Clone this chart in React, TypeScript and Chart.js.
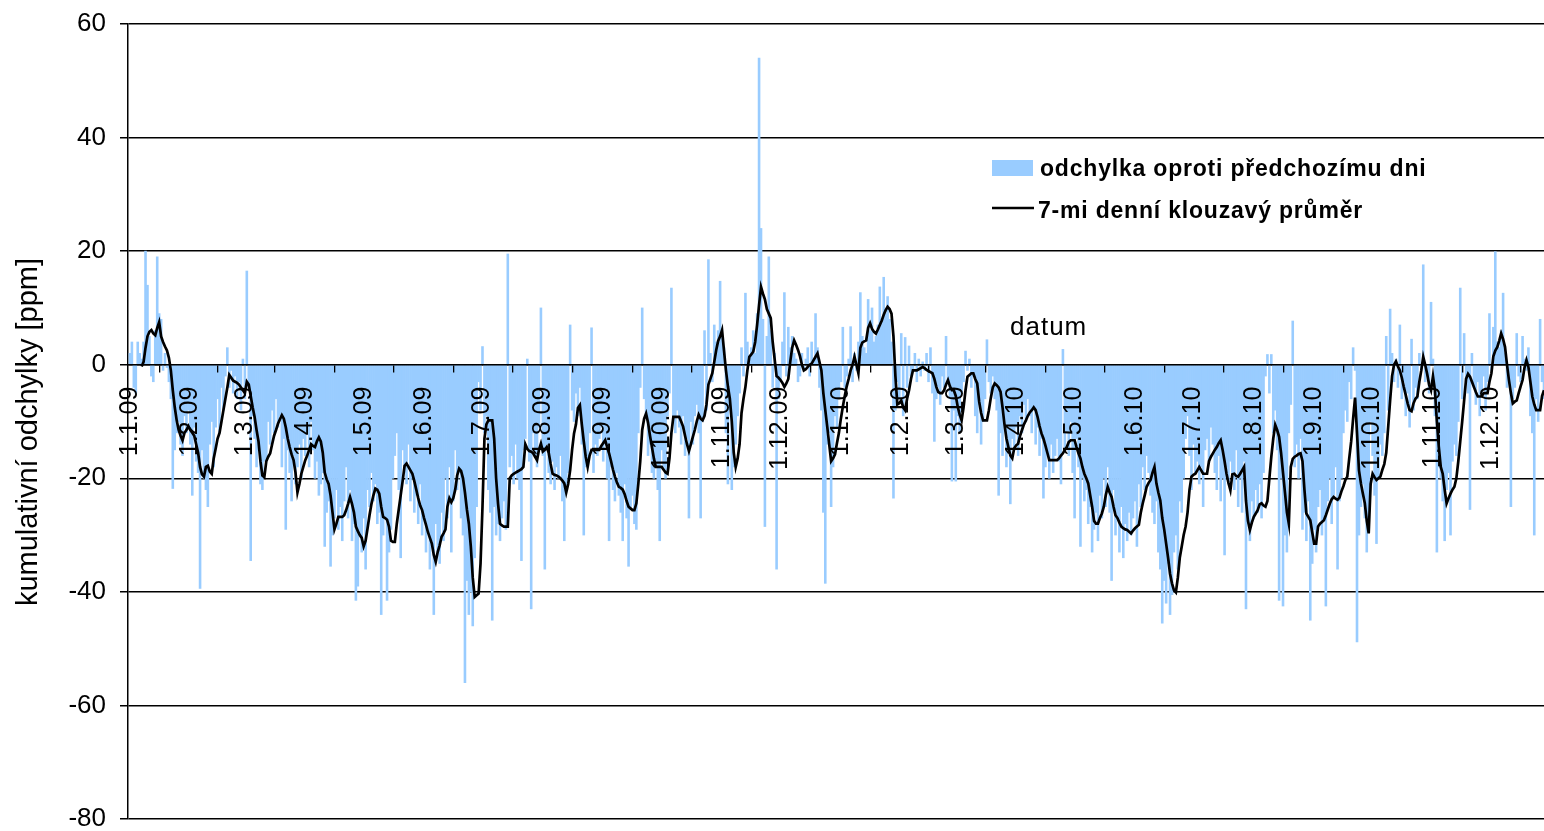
import { useEffect, useRef } from "react";
import { Chart, registerables } from "chart.js";

Chart.register(...registerables);

// Month-start tick labels (d.m.yy), first day of the series is 1.1.09
const monthLabels = [
  "1.1.09", "1.2.09", "1.3.09", "1.4.09", "1.5.09", "1.6.09",
  "1.7.09", "1.8.09", "1.9.09", "1.10.09", "1.11.09", "1.12.09",
  "1.1.10", "1.2.10", "1.3.10", "1.4.10", "1.5.10", "1.6.10",
  "1.7.10", "1.8.10", "1.9.10", "1.10.10", "1.11.10", "1.12.10",
];

// Day-to-day deviation [ppm], one value per day from 1.1.09
const dailyDeviation = [
  2, 4, -4, -5, 4, 2, 1, 4, 20, 14,
  5, -2, -3, 6, 19, 9, 8, -1, 2, -0.5,
  -3, -6, -21.8, -15, -12, -10, -14, -16, -9, -12,
  -8, -14, -23, -11, -17, -19, -39.4, -15, -20, -22,
  -25, -14, -10, -18, -11, -6, -12, -4, -8, -2,
  3, -4, -1, -5, -2, -6, -3, -8, 1, -6,
  16.5, -4, -34.5, -9, -13, -18, -15, -21, -22, -17,
  -17, -10, -14, -8, -12, -6, -11, -9, -18, -13,
  -29, -15, -19, -24, -16, -21, -18, -14, -20, -13,
  -16, -12, -18, -10, -15, -20, -17, -23, -21, -19,
  -32, -26, -24, -35.5, -30, -27, -22, -29, -25, -31,
  -24, -18, -27, -22, -31, -28, -41.5, -39, -30, -33,
  -27, -36, -22, -25, -19, -24, -21, -28, -26, -44,
  -30, -27, -41.5, -33, -29, -20, -16, -12, -22, -34,
  -15, -19, -21, -14, -24, -20, -26, -23, -28, -21,
  -30, -27, -33, -29, -36, -31, -44, -28, -33, -35,
  -26, -31, -20, -27, -18, -33, -24, -15, -22, -19,
  -27, -30, -56, -38, -44, -40, -46, -34, -25, -3,
  -8, 3.2, -12, -9, -22, -26, -45, -25, -30, -28,
  -31, -27, -24, -29, 19.5, -18, -16, -21, -14, -20,
  -22, -34.5, -15, -13, 1, -17, -43, -12, -16, -18,
  -11, 10, -16, -36, -14, -19, -21, -17, -22, -18,
  -20, -16, -24, -31, -22, -19, 7, -8, -10, -5,
  -9, -4, -14, -30, -18, -17, -12, 6.5, -19, -14,
  -16, -13, -11, -17, -14, -20, -31, -18, -22, -24,
  -19, -23, -26, -31, -21, -27, -35.5, -25, -23, -28,
  -29, -12, -4, 10, -6, -9, -16, -14, -19, -20,
  -17, -22, -31, -15, -18, -20, -9, -5, 13.5, -10,
  -12, -8, -11, -14, -9, -16, -13, -27, -10, -14,
  -9, -7, -12, -27, -10, 6, -8, 18.5, 2, -3,
  7, 4, 6, 14.7, 5, 3, -12, -21, -8, -22,
  -18, -14, -9, -5, 3, -2, 12.6, 4, 1, 3,
  6, 2, 9, 54, 24, 8, -28.5, 5, 19, 6,
  -4, 2, -36, -6, -3, 4, 12.7, -2, 6.6, 3,
  5, 2, 1, -3, -2, 2, -1, 1, 3, -2,
  4, 1, 9, 3, -4, -8, -26, -38.5, -14, -12,
  -25, -18, -9, -11, -6, -3, 6.6, -4, -2, 1,
  6.7, -3, 2, -1, 4, 12.7, 5, 3, 2, 11.5,
  6, 10, 4, 5, 7, 13.7, 8, 15.4, 9, 12,
  8, 4, -23.5, -8, -3, -6, 5.5, -9, 4.8, -4,
  3.3, -2, -1, 2, -3, 1, -2, 0.5, -1, 2,
  -3, 3, -5, -13.5, -6, -4, -7, -2, -4, 5,
  -3, -6, -20.5, -8, -20.5, -9, -12, -5, -3, 2.4,
  -1, 1, -4, -2, -9, -12, -7, -14, -10, -6,
  4.4, -3, -5, -2, -6, -8, -23, -12, -16, -10,
  -18, -14, -24.5, -13, -15, -11, -16, -9, -12, -7,
  -10, -6, -9, -12, -8, -14, -11, -16, -13, -23.5,
  -18, -15, -20, -14, -19, -16, -13, -17, -21, 2.7,
  -15, -12, -16, -10, -19, -27, -13, -18, -32, -20,
  -24, -22, -28, -25, -33, -29, -26, -31, -23, -27,
  -20, -25, -18, -26, -38, -22, -30, -27, -33, -25,
  -34, -28, -31, -26, -30, -27, -24, -32, -21, -25,
  -18, -22, -16, -19, -23, -26, -28, -24, -33, -36,
  -45.5, -38, -42, -35, -44, -40.5, -33, -30, -36, -24,
  -26, -20, -13, -9, -16, -22, -14, -19, -17, -21,
  -18, -25, -15, -13, -17, -11, -14, -19, -22, -16,
  -24, -20, -33.5, -18, -21, -17, -19, -22, -15, -25,
  -20, -26, -17, -43, -28, -31, -24, -27, -22, -26,
  -21, -27, -19, -2, 1.8, -5, 1.8, -12, -8, -15,
  -41.5, -20, -42.5, -30, -33, -12, -7, 7.7, -18, -14,
  -20, -13, -29, -26, -31, -24, -45, -35, -29, -33,
  -25, -22, -30, -27, -42.5, -24, -20, -28, -23, -18,
  -36, -24, -20, -12, -8, -10, -3, -6, 3, -1,
  -48.8, -30, -25, -21, -27, -33, -29, -10, -16, -23,
  -31.5, -20, -14, -16, -12, 5, -8, 9.8, 2, -3,
  1, -4, 7, -6, -3, -9, -5, -11, 4.5, -8,
  -4, -6, 2, -1, 17.6, -3, -2, -5, 11, 1,
  -9, -33, -18, -20, -24, -31, -22, -19, -30, -17,
  -14, -16, -10, 13.5, -6, 5.5, -3, -5, -25.5, 2,
  -4, -7, -3, -9, -5, -2, -8, -3, 9, -1,
  6.6, 19.9, 4, 3, 6, 12.6, 2, -4, -3, -25,
  -6, -4, 5.5, -2, -3, 5, 1, -1, 3, -9,
  -12, -30, -6, -10, 8, -3, -6,
];

// 7-day moving average [ppm], starts once seven days are available
const movingAverage = [
  null, null, null, null, null, null, -0.3, 0.5, 3, 5,
  5.8, 6.1, 5.5, 5.2, 6.5, 7.5, 5, 4, 3.2, 2.5,
  1.2, -1, -4.5, -7.5, -9.8, -11.5, -12.5, -13.3, -12, -11.5,
  -10.8, -11.5, -12, -12.5, -14, -15.5, -18, -19.3, -19.7, -18,
  -17.8, -18.8, -19.2, -16.5, -14.8, -13, -12, -10, -8, -6,
  -4, -1.8, -2.3, -2.8, -3, -3.2, -3.5, -4, -4.5, -5,
  -3, -3.5, -5.5, -7.5, -9.2, -11.5, -13.5, -17, -19.5, -19.8,
  -17, -16.2, -15.6, -14, -12.5, -11.5, -10.4, -9.6, -8.9, -9.5,
  -11, -13, -14.5, -15.8, -16.8, -19, -22.5, -21, -19.2, -18,
  -16.8, -16, -15, -14, -14.3, -14.5, -13.5, -12.8, -13.5, -15.5,
  -19, -20.2, -21, -23, -26, -29, -28, -26.8, -26.8, -26.8,
  -26.5, -25.6, -24.5, -23.3, -24.5, -26, -28.5, -29.3, -30, -30.5,
  -32, -31, -28.8, -26.5, -24.5, -23, -21.8, -22, -22.7, -25,
  -26.8, -27, -27.3, -28.5, -31, -31.2, -31.2, -28, -25.5, -23,
  -20.5, -17.8, -17.4, -18, -18.6, -19.2, -20.5, -22, -23.5, -24.8,
  -25.6, -27, -28.2, -29.5, -30.5, -31.5, -33.5, -34.7, -33, -31.8,
  -30.3, -29.7, -29, -25, -23.5, -24.2, -23.5, -22, -19.5, -18.3,
  -18.7, -20, -22.5, -25.5, -28, -32, -37.5, -40.9, -40.6, -40.3,
  -35, -25, -13, -10.5, -9.8, -9.8, -9.8, -13, -20, -24.5,
  -28, -28.3, -28.5, -28.5, -28.5, -20, -19.5, -19.2, -19, -18.8,
  -18.6, -18.4, -18, -14, -14.8, -15.2, -15.3, -15.6, -16.2, -16.8,
  -15, -13.9, -15.3, -15, -14.5, -15.5, -17.5, -19.2, -19.4, -19.5,
  -19.7, -20, -20.4, -20.9, -22.5, -21, -18.6, -15, -12.1, -10.5,
  -7.6, -7.1, -10.5, -13.5, -16.2, -18, -16, -15, -15, -15,
  -15, -15, -14.3, -13.8, -13.3, -14.5, -15.6, -17, -18.5, -19.7,
  -20.7, -21.5, -21.7, -22, -22.8, -24, -25, -25.3, -25.6, -25.6,
  -24.4, -21, -17, -11.5, -9.5, -8.6, -10.2, -12.5, -14.5, -16.5,
  -18, -18, -18, -18, -18.5, -19, -19.2, -16.5, -12, -9.2,
  -9.2, -9.2, -9.2, -10, -10.9, -12.5, -14, -15.2, -14, -12.7,
  -11.5, -10, -8.8, -9.5, -9.8, -9, -7, -3.5, -2.5, -1.5,
  0.5, 2.6, 4.2, 5, 6.1, 2.5, -1, -3.8, -6, -10,
  -15.5, -18, -16.5, -14, -8.5, -6, -3.9, -1, 1.4, 1.8,
  2.3, 4, 7, 10.5, 13.7, 12.5, 11.5, 9.8, 9, 8.2,
  4, 1, -2, -2.3, -2.7, -3.2, -3.9, -3.3, -2.5, 0.5,
  3, 4.3, 3.5, 2.6, 1.5, 0, -1, -0.8, -0.4, 0,
  0.2, 0.8, 1.4, 2, 0.5, -1, -5, -8, -10.9, -14,
  -17, -16.5, -15.8, -13.8, -12, -9.5, -7.4, -5.5, -3.8, -2.5,
  -1, 0, 1.4, 0, -1.5, 3, 3.9, 4.1, 4.3, 6.5,
  7.3, 6.3, 5.8, 5.5, 6.2, 7, 7.8, 8.8, 9.6, 10.2,
  9.8, 9, 5, -2, -7, -6.8, -6.3, -7.5, -8, -6,
  -4.5, -2.5, -1, -1, -1, -0.8, -0.6, -0.4, -0.6, -0.9,
  -1.1, -1.3, -1.5, -2.5, -3.9, -4.8, -5, -5, -4.5, -3.5,
  -2.7, -3.8, -4.5, -4.5, -5.5, -7.4, -8.8, -9.8, -7.5, -4.5,
  -2.1, -1.8, -1.5, -1.5, -2.5, -3.3, -6.5, -8.5, -9.8, -9.8,
  -9.8, -8, -5.8, -4, -3.3, -3.6, -4, -4.8, -7.5, -10.5,
  -13, -14.5, -16, -16.5, -14.7, -14.2, -13.9, -12.5, -11.5, -10.5,
  -9.8, -9, -8.4, -8, -7.5, -8, -9.2, -10.8, -12.1, -13,
  -14.2, -15.5, -16.8, -16.8, -16.8, -16.8, -16.8, -16.5, -16, -15.6,
  -15, -14.5, -13.6, -13.3, -13.3, -13.3, -14.5, -15.6, -16.5, -18,
  -19.2, -20, -20.9, -23, -25, -27.5, -28, -28, -27, -26.2,
  -25, -23, -21.5, -22.5, -23.3, -25, -26.5, -27, -27.8, -28.5,
  -28.8, -29, -29.1, -29.4, -29.7, -29.2, -28.8, -28.5, -28.2, -26,
  -24.4, -23, -21.5, -20.8, -20.3, -19, -18, -20.9, -22.5, -23.9,
  -27, -29, -31.5, -34, -36.8, -38.5, -39.7, -40.1, -37.5, -34,
  -32, -30, -28.5, -26, -22, -19.7, -19.4, -19.2, -18.6, -18,
  -18.6, -19.2, -19.2, -19.2, -17, -16.2, -15.6, -15, -14.5, -13.8,
  -13.3, -15, -17, -19.2, -20.8, -22.1, -19.3, -19.2, -19.6, -19.7,
  -19.2, -18.6, -18, -24, -27.5, -29.1, -27.8, -26.8, -26.2, -25.6,
  -24.6, -24.4, -24.8, -25, -24, -20, -16.2, -13, -10.6, -11.5,
  -12.7, -15.5, -19, -22.5, -26, -28, -18, -16.6, -16.2, -16,
  -15.7, -15.6, -17, -22, -26.2, -26.8, -27.4, -29.5, -31.5, -31.5,
  -28.5, -28, -27.7, -27.4, -26.5, -25.5, -24.5, -23.7, -23.3, -23.6,
  -23.8, -23.4, -22.3, -21.4, -20.3, -19.7, -16.5, -13.5, -9.5, -5.8,
  -12, -18.6, -20.9, -22.7, -24.4, -27.5, -29.7, -21, -19.2, -19.8,
  -20.3, -20, -19.7, -18.5, -17.5, -15.5, -11, -6.3, -2, 0,
  0.6, -0.3, -1, -2.3, -3.9, -5.3, -6.8, -8, -8.2, -6.8,
  -6, -5.6, -3, -1, 1.4, 0, -1.6, -3.5, -4.5, -2,
  -4.5, -10, -14.5, -18, -19.2, -22, -24.4, -23.5, -22.7, -22,
  -21.5, -20, -17, -13.5, -10, -6.3, -2.5, -1.6, -2.1, -3,
  -3.9, -4.8, -5.6, -5.6, -5.6, -5, -5, -5, -3, -1.5,
  1.5, 2.5, 3.1, 4.2, 5.5, 4.5, 3.1, 0, -2.7, -5,
  -6.8, -6.5, -6.3, -5, -3.8, -2.7, -0.5, 0.8, -0.4, -3,
  -5.6, -7, -8, -8, -8, -5.5, -4.5,
];

const barLabel = "odchylka oproti předchozímu dni";
const lineLabel = "7-mi denní klouzavý průměr";
const yTitle = "kumulativní odchylky [ppm]";
const xTitle = "datum";

const DAY_MS = 86400000;
const START = Date.UTC(2009, 0, 1);

// day index (0 = 1.1.09) of a "d.m.yy" label
function dayOf(label: string): number {
  const [d, m, y] = label.split(".").map(Number);
  return Math.round((Date.UTC(2000 + y, m - 1, d) - START) / DAY_MS);
}

const tickByDay = new Map<number, string>(monthLabels.map((l) => [dayOf(l), l]));

const FONT = "Arial, 'Liberation Sans', sans-serif";

const overlayPlugin = {
  id: "textOverlay",
  afterDraw(chart: any) {
    const { ctx, chartArea } = chart;
    const left = chartArea.left;
    const top = chartArea.top;

    // vertical axis title
    ctx.save();
    ctx.translate(29, 432);
    ctx.rotate(-Math.PI / 2);
    ctx.fillStyle = "#000";
    ctx.font = `29px ${FONT}`;
    ctx.textAlign = "center";
    ctx.textBaseline = "middle";
    ctx.fillText(yTitle, 0, 0);
    ctx.restore();

    // horizontal axis title
    ctx.save();
    ctx.fillStyle = "#000";
    ctx.font = `26px ${FONT}`;
    (ctx as any).letterSpacing = "1px";
    ctx.textAlign = "left";
    ctx.textBaseline = "alphabetic";
    ctx.fillText(xTitle, left + 882, top + 311);
    ctx.restore();

    // legend
    ctx.save();
    const lx = left + 864;
    ctx.fillStyle = "#99CCFF";
    ctx.fillRect(lx, top + 136, 41, 16);
    ctx.strokeStyle = "#000";
    ctx.lineWidth = 2.6;
    ctx.beginPath();
    ctx.moveTo(lx, top + 184);
    ctx.lineTo(lx + 42, top + 184);
    ctx.stroke();
    ctx.fillStyle = "#000";
    ctx.font = `bold 23px ${FONT}`;
    (ctx as any).letterSpacing = "0.8px";
    ctx.textAlign = "left";
    ctx.textBaseline = "alphabetic";
    ctx.fillText(barLabel, lx + 48, top + 152);
    ctx.fillText(lineLabel, lx + 46, top + 193.5);
    ctx.restore();
  },
};

export default function App() {
  const canvasRef = useRef<HTMLCanvasElement | null>(null);

  useEffect(() => {
    const canvas = canvasRef.current;
    if (!canvas) return;

    const chart = new Chart(canvas, {
      type: "bar",
      data: {
        datasets: [
          {
            type: "line",
            label: lineLabel,
            data: movingAverage.map((v, i) => ({ x: i, y: v })) as any,
            borderColor: "#000000",
            borderWidth: 2.7,
            pointRadius: 0,
            tension: 0,
            spanGaps: false,
            order: 1,
          },
          {
            type: "bar",
            label: barLabel,
            data: dailyDeviation.map((v, i) => ({ x: i, y: v })) as any,
            backgroundColor: "#99CCFF",
            borderWidth: 0,
            barPercentage: 1,
            categoryPercentage: 1,
            order: 2,
          },
        ],
      },
      options: {
        animation: false,
        responsive: false,
        maintainAspectRatio: false,
        layout: { padding: { top: 24, bottom: 12, left: 0, right: 0 } },
        plugins: {
          legend: { display: false },
          tooltip: { enabled: false },
        },
        scales: {
          x: {
            type: "linear",
            min: -1,
            max: 726,
            offset: false,
            position: { y: 0 } as any,
            afterBuildTicks: (scale: any) => {
              scale.ticks = Array.from(tickByDay.keys()).map((value) => ({ value }));
            },
            ticks: {
              autoSkip: false,
              minRotation: 90,
              maxRotation: 90,
              padding: 15,
              color: "#000",
              z: 1,
              font: { family: FONT, size: 25 },
              callback: (value: any) => tickByDay.get(Number(value)) ?? "",
            },
            grid: {
              drawOnChartArea: false,
              drawTicks: true,
              tickLength: 7,
              color: "#000",
              lineWidth: 1.3,
              z: 1,
            },
            border: { display: true, color: "#000", width: 1.5, z: 1 },
          },
          y: {
            min: -80,
            max: 60,
            afterFit: (scale: any) => {
              scale.width = 128;
              scale.paddingTop = 0;
              scale.paddingBottom = 0;
            },
            ticks: {
              stepSize: 20,
              padding: 14,
              color: "#000",
              font: { family: FONT, size: 26 },
            },
            grid: { color: "#000", lineWidth: 1.5, tickLength: 8 },
            border: { display: true, color: "#000", width: 1.5 },
          },
        },
      },
      plugins: [overlayPlugin],
    });

    return () => chart.destroy();
  }, []);

  return (
    <div style={{ position: "fixed", left: 0, top: 0, width: 1544, height: 831, background: "#fff" }}>
      <canvas ref={canvasRef} width={1544} height={831} style={{ display: "block" }} />
    </div>
  );
}
